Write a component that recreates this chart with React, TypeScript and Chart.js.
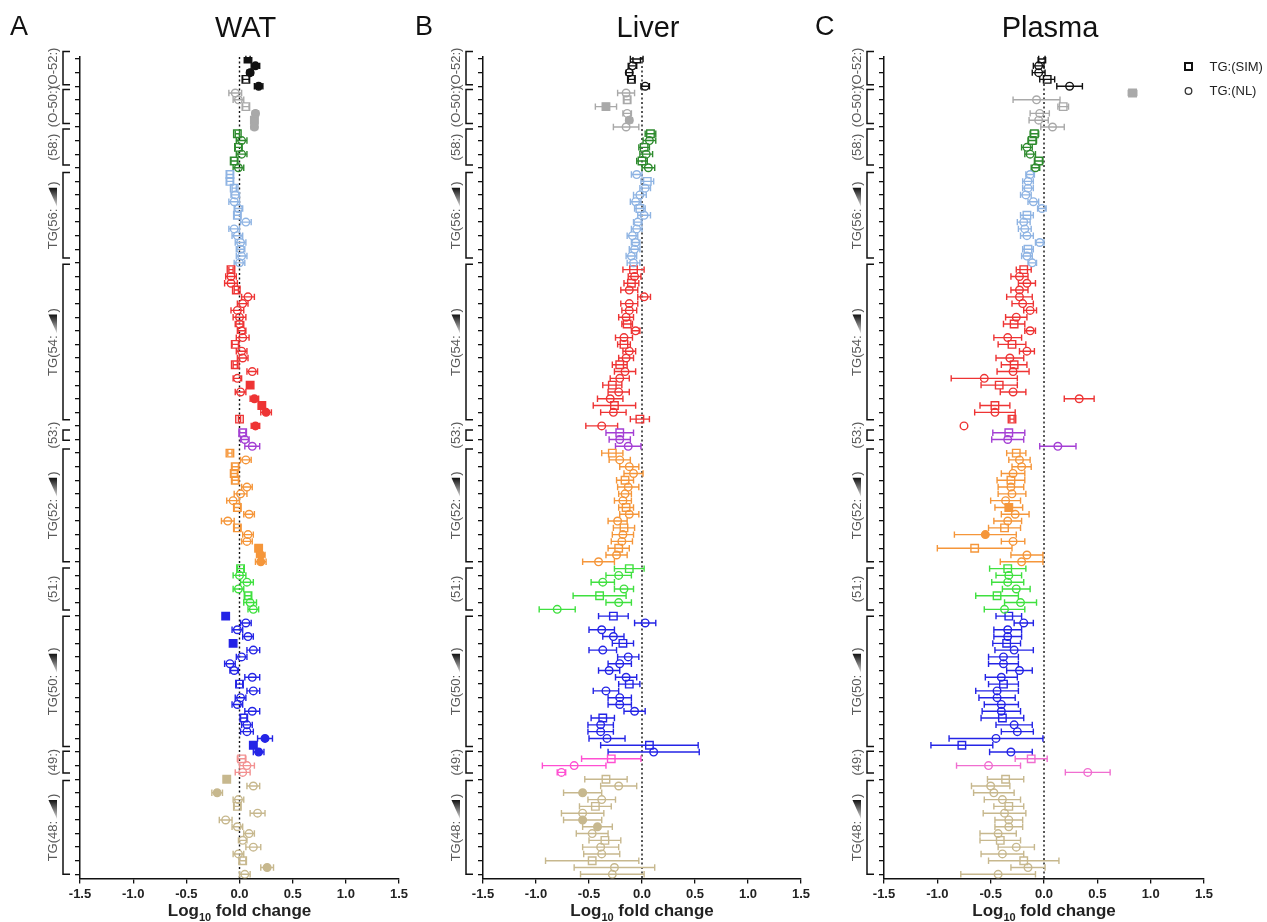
import React, { useEffect, useRef } from 'react';
import { Chart, registerables } from 'chart.js';

Chart.register(...registerables);
Chart.defaults.font.family = '"Liberation Sans", Arial, sans-serif';

// ---------- shared row structure ----------
const groupNames = ['(O-52:)', '(O-50:)', '(58:)', 'TG(56:', 'TG(54:', '(53:)', 'TG(52:', '(51:)', 'TG(50:', '(49:)', 'TG(48:'];
const groupHasWedge = [false, false, false, true, true, false, true, false, true, false, true];
const groupSizes = [5, 6, 6, 14, 24, 3, 17, 7, 21, 3, 15];
const bracketTop = [-1.1, 4.5, 10.3, 16.7, 30.2, 54.6, 57.4, 74.9, 82.0, 101.9, 106.2];
const bracketBottom = [3.8, 9.5, 15.6, 29.3, 53.1, 56.1, 74.0, 81.1, 101.2, 105.1, 120.0];
const groupColors = ['#111111', '#a9a9a9', '#2e8b2e', '#8fb4e3', '#ee3434', '#a43fd4', '#f5963a', '#3fe03f', '#2424e6', '#f277cf', '#c7b88e'];
const yTickRows = [0, 2, 4, 6, 8, 10, 12, 14, 16, 18, 20, 22, 24, 26, 28, 30, 32, 34, 36, 38, 40, 42, 44, 46, 48, 50, 52, 54, 56, 58, 60,
  62, 64, 66, 68, 70, 72, 74, 76, 78, 80, 82, 84, 86, 88, 90, 92, 94, 96, 98, 100, 102, 104, 106, 108, 110, 112, 114, 116, 118, 120];
const xTickValues = [-1.5, -1.0, -0.5, 0.0, 0.5, 1.0, 1.5];
const legendLabels = ['TG:(SIM)', 'TG:(NL)'];

// marks: s = SIM open square, S = SIM filled, c = NL open circle, C = NL filled
// ---------- WAT ----------
const watValues = [
  0.08, 0.15, 0.10, 0.06, 0.18,
  -0.04, -0.01, 0.06, 0.15, 0.14, 0.14,
  -0.02, 0.02, -0.01, 0.02, -0.05, -0.01,
  -0.09, -0.09, -0.05, -0.04, -0.05, -0.01, -0.02, 0.06, -0.05, -0.02, 0.01, 0.01, 0.02, 0.0,
  -0.08, -0.08, -0.08, -0.03, 0.08, 0.03, -0.02, 0.0, 0.0, 0.02, 0.03, -0.04, 0.02, 0.03, -0.04, 0.12, -0.02, 0.10, 0.01, 0.14, 0.21, 0.25, 0.0, 0.15,
  0.03, 0.05, 0.12,
  -0.09, 0.06, -0.04, -0.05, -0.04, 0.07, 0.01, -0.06, -0.02, 0.09, -0.11, -0.02, 0.08, 0.07, 0.18, 0.20, 0.20,
  0.01, 0.0, 0.07, -0.01, 0.08, 0.10, 0.13,
  -0.13, 0.06, -0.02, 0.08, -0.06, 0.13, 0.02, -0.09, -0.05, 0.12, 0.0, 0.13, 0.01, -0.02, 0.12, 0.04, 0.07, 0.07, 0.24, 0.13, 0.18,
  0.02, 0.07, 0.03,
  -0.12, 0.13, -0.21, -0.01, -0.02, 0.17, -0.13, -0.02, 0.09, 0.03, 0.13, -0.01, 0.03, 0.26, 0.05,
];
const watErrors = [
  0.02, 0.04, 0.03, 0.03, 0.04,
  0.06, 0.05, 0.03, 0.03, 0.03, 0.03,
  0.02, 0.05, 0.03, 0.05, 0.03, 0.05,
  0.03, 0.03, 0.02, 0.04, 0.05, 0.04, 0.03, 0.05, 0.05, 0.05, 0.05, 0.04, 0.05, 0.05,
  0.02, 0.05, 0.06, 0.02, 0.06, 0.05, 0.06, 0.06, 0.04, 0.04, 0.06, 0.03, 0.05, 0.05, 0.02, 0.05, 0.04, 0.02, 0.05, 0.04, 0.03, 0.05, 0.01, 0.04,
  0.03, 0.04, 0.07,
  0.02, 0.05, 0.03, 0.03, 0.03, 0.05, 0.06, 0.06, 0.03, 0.05, 0.06, 0.03, 0.05, 0.05, 0.03, 0.04, 0.05,
  0.03, 0.06, 0.06, 0.05, 0.03, 0.06, 0.05,
  0.02, 0.05, 0.05, 0.05, 0.02, 0.06, 0.05, 0.05, 0.04, 0.07, 0.03, 0.06, 0.05, 0.05, 0.07, 0.03, 0.05, 0.06, 0.07, 0.03, 0.05,
  0.04, 0.07, 0.07,
  0.03, 0.06, 0.05, 0.05, 0.03, 0.07, 0.06, 0.05, 0.05, 0.04, 0.07, 0.05, 0.03, 0.06, 0.05,
];
const watMarks = ['SCCsC', 'ccsCSC', 'scscsc', 'ssscccsccccccc', 'sccscccccccsccsccScCSCsC', 'scc',
  'scssscccsccsccSCC', 'scccscc', 'ScccScccccsccccsccCSC', 'scc', 'ScCcscccccccsCc'];

// ---------- Liver ----------
const liverValues = [
  -0.05, -0.09, -0.12, -0.10, 0.03,
  -0.15, -0.14, -0.34, -0.14, -0.12, -0.15,
  0.08, 0.07, 0.02, 0.04, 0.0, 0.06,
  -0.05, 0.05, 0.03, -0.02, -0.06, -0.02, 0.02, -0.04, -0.05, -0.09, -0.06, -0.07, -0.10, -0.08,
  -0.08, -0.07, -0.10, -0.12, 0.02, -0.12, -0.12, -0.15, -0.14, -0.06, -0.17, -0.17, -0.12, -0.15, -0.21, -0.16, -0.21, -0.28, -0.22, -0.30, -0.26, -0.27, -0.02, -0.38,
  -0.21, -0.21, -0.13,
  -0.28, -0.21, -0.12, -0.08, -0.16, -0.13, -0.16, -0.18, -0.15, -0.12, -0.23, -0.17, -0.18, -0.19, -0.22, -0.24, -0.41,
  -0.12, -0.22, -0.37, -0.17, -0.40, -0.22, -0.80,
  -0.27, 0.03, -0.38, -0.27, -0.18, -0.37, -0.13, -0.21, -0.31, -0.15, -0.12, -0.34, -0.21, -0.21, -0.07, -0.37, -0.39, -0.39, -0.33, 0.07, 0.11,
  -0.29, -0.64, -0.76,
  -0.34, -0.22, -0.56, -0.38, -0.44, -0.56, -0.56, -0.42, -0.47, -0.35, -0.39, -0.38, -0.47, -0.26, -0.28,
];
const liverErrors = [
  0.06, 0.04, 0.03, 0.03, 0.04,
  0.08, 0.03, 0.10, 0.04, 0.03, 0.12,
  0.05, 0.06, 0.05, 0.06, 0.05, 0.06,
  0.05, 0.06, 0.05, 0.06, 0.05, 0.05, 0.06, 0.04, 0.05, 0.05, 0.04, 0.05, 0.05, 0.06,
  0.10, 0.06, 0.07, 0.08, 0.06, 0.08, 0.07, 0.07, 0.05, 0.04, 0.08, 0.06, 0.06, 0.07, 0.07, 0.10, 0.09, 0.09, 0.10, 0.12, 0.20, 0.12, 0.09, 0.15,
  0.13, 0.10, 0.12,
  0.10, 0.10, 0.09, 0.09, 0.08, 0.10, 0.06, 0.08, 0.07, 0.09, 0.09, 0.10, 0.10, 0.10, 0.10, 0.10, 0.15,
  0.14, 0.12, 0.11, 0.09, 0.25, 0.12, 0.17,
  0.14, 0.10, 0.12, 0.10, 0.10, 0.13, 0.10, 0.11, 0.10, 0.10, 0.10, 0.12, 0.11, 0.11, 0.10, 0.11, 0.12, 0.12, 0.17, 0.46, 0.43,
  0.28, 0.30, 0.04,
  0.20, 0.17, 0.18, 0.13, 0.15, 0.20, 0.18, 0.14, 0.15, 0.15, 0.17, 0.17, 0.44, 0.38, 0.30,
];
const liverMarks = ['sccsc', 'csScCc', 'scscsc', 'cscccscccccccc', 'scscccccsccsccsccsccscsc', 'scc',
  'scccscccsccsccscc', 'scccscc', 'scccscccccsccccscccsc', 'scc', 'scCcscCCcsccscc'];

// ---------- Plasma ----------
const plasmaValues = [
  -0.02, -0.05, -0.05, 0.03, 0.24,
  0.83, -0.07, 0.18, -0.04, -0.05, 0.08,
  -0.09, -0.11, -0.16, -0.13, -0.05, -0.08,
  -0.13, -0.15, -0.15, -0.17, -0.10, -0.02, -0.16, -0.19, -0.18, -0.16, -0.04, -0.15, -0.16, -0.11,
  -0.19, -0.23, -0.16, -0.23, -0.23, -0.20, -0.13, -0.26, -0.28, -0.13, -0.34, -0.30, -0.16, -0.32, -0.28, -0.29, -0.56, -0.42, -0.29, 0.33, -0.46, -0.46, -0.30, -0.75,
  -0.33, -0.34, 0.13,
  -0.26, -0.23, -0.21, -0.29, -0.31, -0.31, -0.30, -0.36, -0.33, -0.27, -0.34, -0.37, -0.55, -0.29, -0.65, -0.16, -0.21,
  -0.34, -0.33, -0.34, -0.26, -0.44, -0.22, -0.37,
  -0.33, -0.19, -0.34, -0.34, -0.35, -0.28, -0.38, -0.38, -0.23, -0.40, -0.38, -0.44, -0.44, -0.40, -0.40, -0.39, -0.28, -0.25, -0.45, -0.77, -0.31,
  -0.12, -0.52, 0.41,
  -0.36, -0.50, -0.47, -0.39, -0.33, -0.37, -0.33, -0.33, -0.43, -0.41, -0.26, -0.39, -0.19, -0.15, -0.43,
];
const plasmaErrors = [
  0.03, 0.05, 0.06, 0.07, 0.12,
  0.04, 0.22, 0.05, 0.09, 0.09, 0.11,
  0.04, 0.04, 0.05, 0.05, 0.04, 0.04,
  0.04, 0.05, 0.05, 0.05, 0.05, 0.04, 0.06, 0.06, 0.06, 0.06, 0.04, 0.05, 0.05, 0.04,
  0.07, 0.08, 0.08, 0.08, 0.12, 0.10, 0.06, 0.10, 0.10, 0.05, 0.13, 0.13, 0.07, 0.13, 0.12, 0.15, 0.31, 0.17, 0.12, 0.14, 0.14, 0.19, 0.02, 0,
  0.15, 0.15, 0.17,
  0.09, 0.10, 0.09, 0.11, 0.13, 0.12, 0.13, 0.14, 0.13, 0.13, 0.13, 0.15, 0.29, 0.11, 0.35, 0.15, 0.20,
  0.17, 0.12, 0.15, 0.13, 0.20, 0.15, 0.19,
  0.12, 0.09, 0.13, 0.13, 0.13, 0.18, 0.14, 0.14, 0.12, 0.15, 0.14, 0.20, 0.17, 0.16, 0.18, 0.20, 0.17, 0.15, 0.44, 0.29, 0.20,
  0.15, 0.30, 0.21,
  0.17, 0.18, 0.19, 0.17, 0.14, 0.20, 0.13, 0.13, 0.17, 0.19, 0.17, 0.20, 0.33, 0.16, 0.35,
];
const plasmaMarks = ['sccsc', 'Scsccc', 'ssccsc', 'ccccccsccccscc', 'scccccccsccsccsccsccscsc', 'scc',
  'scccscccSccsCcscc', 'scccscc', 'scccscccccsccccscccsc', 'scc', 'scccsccccsccscc'];

// ---------- panels ----------
type PanelCfg = {
  letter: string; title: string; left: number; width: number; padLeft: number; padRight: number;
  values: number[]; errors: number[]; marks: string[]; pink: string; legend: boolean;
};

const panels: PanelCfg[] = [
  { letter: 'A', title: 'WAT', left: 0, width: 420, padLeft: 75, padRight: 21, values: watValues, errors: watErrors, marks: watMarks, pink: '#f29191', legend: false },
  { letter: 'B', title: 'Liver', left: 410, width: 420, padLeft: 68, padRight: 29, values: liverValues, errors: liverErrors, marks: liverMarks, pink: '#ff4fd2', legend: false },
  { letter: 'C', title: 'Plasma', left: 810, width: 457, padLeft: 69, padRight: 63, values: plasmaValues, errors: plasmaErrors, marks: plasmaMarks, pink: '#f06ed0', legend: true },
];

const FONT = '"Liberation Sans", Arial, sans-serif';

function buildDatasets(cfg: PanelCfg) {
  const colors = groupColors.slice();
  colors[9] = cfg.pink;
  const marks = cfg.marks.join('');
  const sets: any[] = [];
  let start = 0;
  groupSizes.forEach((n, g) => {
    const data: { x: number; y: number }[] = [];
    for (let i = start; i < start + n; i++) data.push({ x: cfg.values[i], y: i });
    const m = marks.slice(start, start + n);
    const col = colors[g];
    sets.push({
      label: groupNames[g],
      data,
      errors: cfg.errors.slice(start, start + n),
      marks: m,
      color: col,
      showLine: false,
      borderColor: col,
      pointBorderColor: col,
      pointBorderWidth: 1.4,
      pointBackgroundColor: (c: any) => (/[SC]/.test(c.dataset.marks[c.dataIndex]) ? col : 'rgba(0,0,0,0)'),
      pointStyle: (c: any) => (/[sS]/.test(c.dataset.marks[c.dataIndex]) ? 'rect' : 'circle'),
      pointRadius: (c: any) => (/[sS]/.test(c.dataset.marks[c.dataIndex]) ? 5.3 : 3.8),
    });
    start += n;
  });
  return sets;
}

const errorBarPlugin = {
  id: 'errorBars',
  beforeDatasetsDraw(chart: any) {
    const { ctx, chartArea } = chart;
    const xs = chart.scales.x;
    ctx.save();
    // dotted zero line
    const x0 = xs.getPixelForValue(0);
    ctx.strokeStyle = '#111';
    ctx.lineWidth = 1.4;
    ctx.setLineDash([2, 2.5]);
    ctx.beginPath();
    ctx.moveTo(x0, chartArea.top);
    ctx.lineTo(x0, chartArea.bottom);
    ctx.stroke();
    ctx.setLineDash([]);
    chart.data.datasets.forEach((ds: any, di: number) => {
      const meta = chart.getDatasetMeta(di);
      ctx.strokeStyle = ds.color;
      ctx.lineWidth = 1.4;
      meta.data.forEach((pt: any, i: number) => {
        const e = ds.errors[i];
        if (!e) return;
        const v = ds.data[i].x;
        const xl = xs.getPixelForValue(v - e);
        const xr = xs.getPixelForValue(v + e);
        const py = pt.y;
        ctx.beginPath();
        ctx.moveTo(xl, py); ctx.lineTo(xr, py);
        ctx.moveTo(xl, py - 3.2); ctx.lineTo(xl, py + 3.2);
        ctx.moveTo(xr, py - 3.2); ctx.lineTo(xr, py + 3.2);
        ctx.stroke();
      });
    });
    ctx.restore();
  },
};

function makeDecorPlugin(cfg: PanelCfg) {
  return {
    id: 'decor',
    afterDraw(chart: any) {
      const { ctx, chartArea } = chart;
      const ys = chart.scales.y;
      const axisX = chartArea.left;
      const cx = (chartArea.left + chartArea.right) / 2;
      ctx.save();
      // panel letter & title
      ctx.fillStyle = '#111';
      ctx.textBaseline = 'alphabetic';
      ctx.textAlign = 'left';
      ctx.font = `27px ${FONT}`;
      ctx.fillText(cfg.letter, cfg.left === 0 ? 10 : 5, 35);
      ctx.textAlign = 'center';
      ctx.font = `29px ${FONT}`;
      ctx.fillText(cfg.title, cx + 6, 37);

      // brackets + group labels
      groupNames.forEach((name, g) => {
        const top = ys.getPixelForValue(bracketTop[g]);
        const bot = ys.getPixelForValue(bracketBottom[g]);
        const bx = axisX - 17;
        ctx.strokeStyle = '#111';
        ctx.lineWidth = 1.5;
        ctx.beginPath();
        ctx.moveTo(axisX - 10, top); ctx.lineTo(bx, top); ctx.lineTo(bx, bot); ctx.lineTo(axisX - 10, bot);
        ctx.stroke();

        const cy = (top + bot) / 2;
        ctx.save();
        ctx.translate(axisX - 27, cy);
        ctx.rotate(-Math.PI / 2);
        ctx.font = `13px ${FONT}`;
        ctx.fillStyle = '#5a5a5a';
        ctx.textBaseline = 'middle';
        ctx.textAlign = 'left';
        if (groupHasWedge[g]) {
          const w1 = ctx.measureText(name).width;
          const w3 = ctx.measureText(')').width;
          const wedge = 19;
          const total = w1 + 2 + wedge + 2 + w3;
          let x = -total / 2;
          ctx.fillText(name, x, 0);
          x += w1 + 2;
          const grad = ctx.createLinearGradient(x, 0, x + wedge, 0);
          grad.addColorStop(0, '#d8d8d8');
          grad.addColorStop(1, '#111');
          ctx.fillStyle = grad;
          ctx.beginPath();
          ctx.moveTo(x, 4);
          ctx.lineTo(x + wedge, 4);
          ctx.lineTo(x + wedge, -4.5);
          ctx.closePath();
          ctx.fill();
          x += wedge + 2;
          ctx.fillStyle = '#5a5a5a';
          ctx.fillText(')', x, 0);
        } else {
          ctx.textAlign = 'center';
          ctx.fillText(name, 0, 0);
        }
        ctx.restore();
      });

      // x-axis title with subscript
      ctx.fillStyle = '#222';
      ctx.textAlign = 'left';
      ctx.textBaseline = 'alphabetic';
      const big = `bold 17px ${FONT}`;
      const small = `bold 11px ${FONT}`;
      ctx.font = big;
      const wLog = ctx.measureText('Log').width;
      const wRest = ctx.measureText(' fold change').width;
      ctx.font = small;
      const wSub = ctx.measureText('10').width;
      let tx = cx - (wLog + wSub + wRest) / 2;
      ctx.font = big;
      ctx.fillText('Log', tx, 916);
      tx += wLog;
      ctx.font = small;
      ctx.fillText('10', tx, 921);
      tx += wSub;
      ctx.font = big;
      ctx.fillText(' fold change', tx, 916);

      // legend
      if (cfg.legend) {
        const lx = 1188.5 - cfg.left;
        ctx.strokeStyle = '#111';
        ctx.lineWidth = 2;
        ctx.strokeRect(lx - 3.5, 63, 7, 7);
        ctx.lineWidth = 1.3;
        ctx.strokeStyle = '#333';
        ctx.beginPath();
        ctx.arc(lx, 91, 3.3, 0, Math.PI * 2);
        ctx.stroke();
        ctx.font = `13px ${FONT}`;
        ctx.fillStyle = '#222';
        ctx.textBaseline = 'middle';
        ctx.fillText(legendLabels[0], lx + 21, 67);
        ctx.fillText(legendLabels[1], lx + 21, 91);
      }
      ctx.restore();
    },
  };
}

function Panel({ cfg }: { cfg: PanelCfg }) {
  const ref = useRef<HTMLCanvasElement>(null);
  useEffect(() => {
    if (!ref.current) return;
    const chart = new Chart(ref.current, {
      type: 'scatter',
      data: { datasets: buildDatasets(cfg) },
      options: {
        animation: false,
        responsive: false,
        layout: { padding: { left: cfg.padLeft, right: cfg.padRight, top: 57, bottom: 17 } },
        plugins: { legend: { display: false }, tooltip: { enabled: false }, title: { display: false } },
        scales: {
          x: {
            type: 'linear',
            min: -1.5,
            max: 1.5,
            afterBuildTicks: (axis: any) => { axis.ticks = xTickValues.map((v) => ({ value: v })); },
            ticks: {
              callback: (v: any) => Number(v).toFixed(1),
              font: { family: FONT, size: 13, weight: 'bold' },
              color: '#222',
              padding: 3,
              maxRotation: 0,
              autoSkip: false,
            },
            grid: { drawOnChartArea: false, drawTicks: true, tickLength: 5, color: '#111', lineWidth: 1.3 },
            border: { display: true, color: '#111', width: 1.5 },
          },
          y: {
            type: 'linear',
            reverse: true,
            min: -0.3,
            max: 120.6,
            afterBuildTicks: (axis: any) => { axis.ticks = yTickRows.map((v) => ({ value: v })); },
            ticks: { display: false },
            grid: { drawOnChartArea: false, drawTicks: true, tickLength: 5, color: '#111', lineWidth: 1.3 },
            border: { display: true, color: '#111', width: 1.5 },
          },
        },
      } as any,
      plugins: [errorBarPlugin, makeDecorPlugin(cfg)],
    });
    return () => chart.destroy();
  }, [cfg]);
  return (
    <canvas
      ref={ref}
      width={cfg.width}
      height={922}
      style={{ position: 'absolute', left: cfg.left, top: 0, width: cfg.width, height: 922 }}
    />
  );
}

export default function App() {
  return (
    <div style={{ position: 'absolute', left: 0, top: 0, width: 1267, height: 922, background: '#fff' }}>
      {panels.map((p) => (
        <Panel key={p.letter} cfg={p} />
      ))}
    </div>
  );
}
